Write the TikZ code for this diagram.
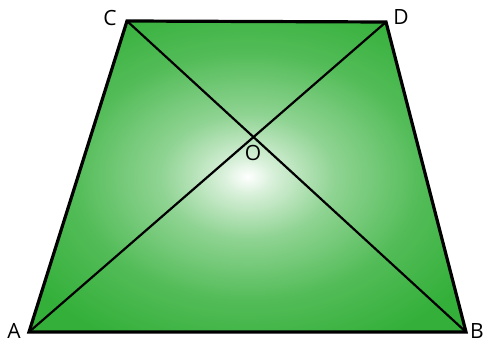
\documentclass[tikz,border=0pt]{standalone}
\usepackage{fontspec}
\setmainfont{Open Sans}
\usepackage{tikz}
\definecolor{trapgreen}{RGB}{52,176,58}
\pgfdeclareradialshading{trapglow}{\pgfpoint{0bp}{0bp}}{%
  color(0bp)=(white);
  color(3bp)=(white!80!trapgreen);
  color(10bp)=(white!45!trapgreen);
  color(20bp)=(white!15!trapgreen);
  color(30bp)=(trapgreen);
  color(50bp)=(trapgreen)}
\tikzset{
  vlabel/.style={inner sep=0pt,font=\fontsize{21}{24}\selectfont},
  edge/.style={draw=black,line width=3.2pt,line join=miter},
  diag/.style={draw=black,line width=2.2pt}
}

\begin{document}
\begin{tikzpicture}[x=1pt,y=1pt]
\useasboundingbox (0,0) rectangle (486,343);
% corners of the trapezium:
\coordinate (A) at (29,11);
\coordinate (B) at (466,11);
\coordinate (D) at (386,321);
\coordinate (C) at (127,322);
% fill and outline:
\path[shading=trapglow] (A) -- (B) -- (D) -- (C) -- cycle;
\path[diag] (A) -- (D);
\path[diag] (C) -- (B);
\path[edge] (A) -- (B) -- (D) -- (C) -- cycle;
% labels:
\node[vlabel] (labA) at (14,12) {A};
\node[vlabel] (labB) at (477,12) {B};
\node[vlabel] (labC) at (110,325) {C};
\node[vlabel] (labD) at (401,326) {D};
\node[vlabel] (labO) at (253,190) {O};
\end{tikzpicture}
\end{document}
